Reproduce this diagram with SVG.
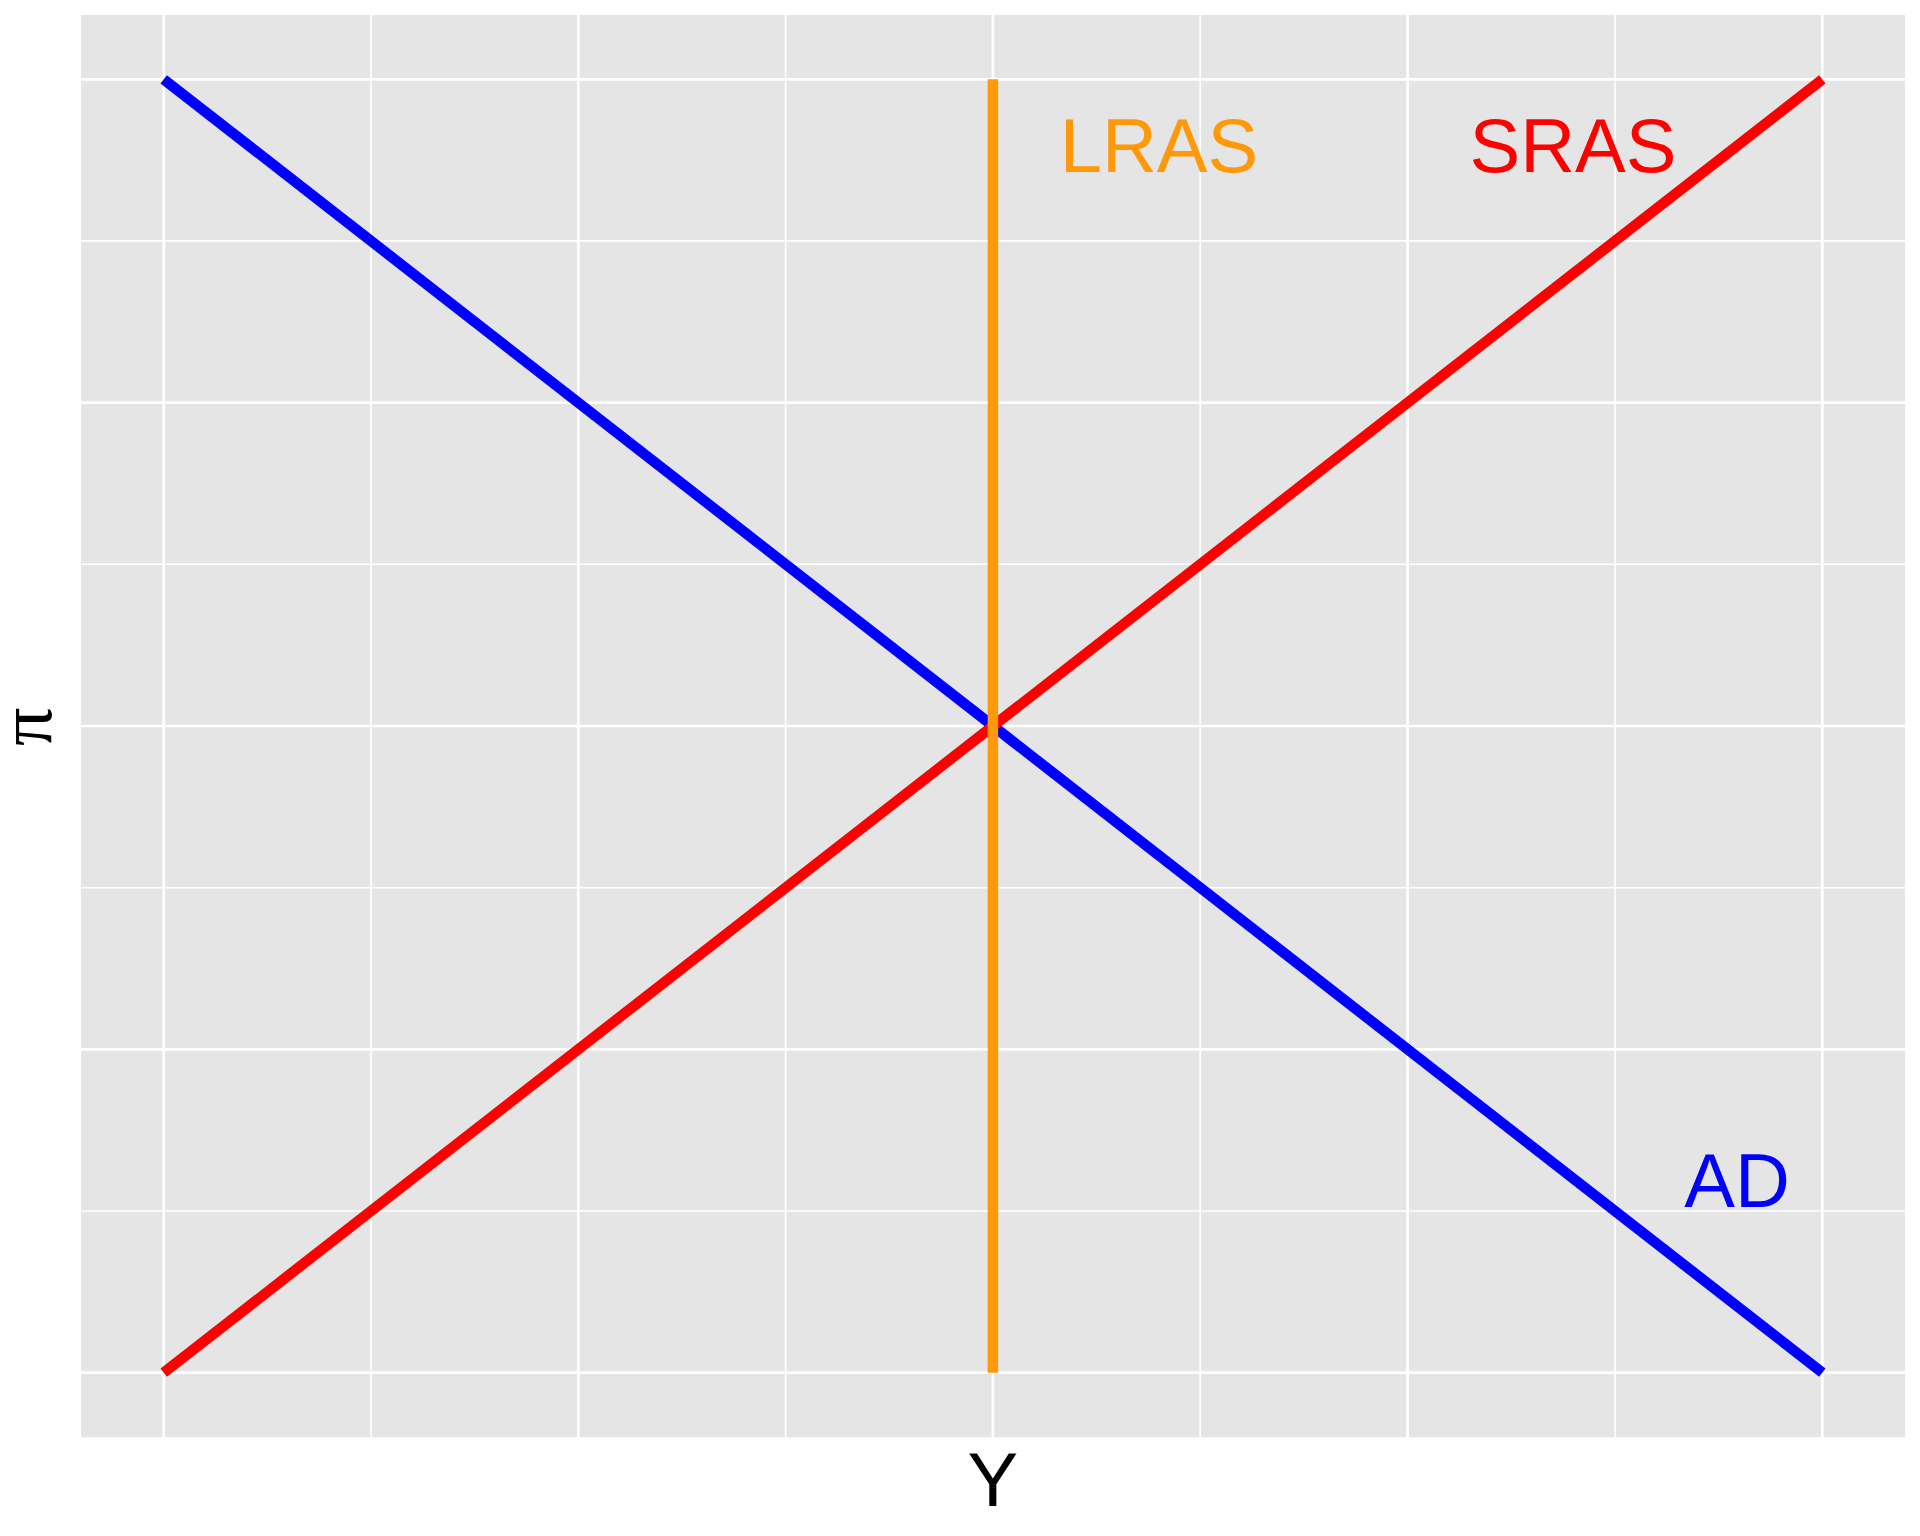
<svg xmlns="http://www.w3.org/2000/svg" width="1920" height="1536" viewBox="0 0 1920 1536">
<style>
.major{stroke:#FFFFFF;stroke-width:2.7;fill:none}
.minor{stroke:#FFFFFF;stroke-width:1.6;fill:none}
.curve{fill:none;stroke-width:10.5;stroke-linecap:butt}
.lbl{font-family:"Liberation Sans",Arial,sans-serif;font-size:76px;text-anchor:middle}
</style>
<rect x="0" y="0" width="1920" height="1536" fill="#FFFFFF"/>
<g id="panel">
<rect x="81" y="15" width="1824" height="1422.3" fill="#E5E5E5"/>
<g id="grid-minor">
<line class="minor" x1="81" y1="240.9" x2="1905" y2="240.9"/>
<line class="minor" x1="81" y1="564.3" x2="1905" y2="564.3"/>
<line class="minor" x1="81" y1="887.7" x2="1905" y2="887.7"/>
<line class="minor" x1="81" y1="1211" x2="1905" y2="1211"/>
<line class="minor" x1="371" y1="15" x2="371" y2="1437.3"/>
<line class="minor" x1="785.6" y1="15" x2="785.6" y2="1437.3"/>
<line class="minor" x1="1200.2" y1="15" x2="1200.2" y2="1437.3"/>
<line class="minor" x1="1615" y1="15" x2="1615" y2="1437.3"/>
</g>
<g id="grid-major">
<line class="major" x1="81" y1="79.3" x2="1905" y2="79.3"/>
<line class="major" x1="81" y1="402.6" x2="1905" y2="402.6"/>
<line class="major" x1="81" y1="726" x2="1905" y2="726"/>
<line class="major" x1="81" y1="1049.4" x2="1905" y2="1049.4"/>
<line class="major" x1="81" y1="1372.7" x2="1905" y2="1372.7"/>
<line class="major" x1="163.7" y1="15" x2="163.7" y2="1437.3"/>
<line class="major" x1="578.3" y1="15" x2="578.3" y2="1437.3"/>
<line class="major" x1="992.9" y1="15" x2="992.9" y2="1437.3"/>
<line class="major" x1="1407.6" y1="15" x2="1407.6" y2="1437.3"/>
<line class="major" x1="1822.3" y1="15" x2="1822.3" y2="1437.3"/>
</g>
</g>
<g id="connectors">
<line id="AD-line" class="curve" stroke="#0000FF" x1="163.7" y1="79.3" x2="1822.3" y2="1372.7"/>
<line id="SRAS-line" class="curve" stroke="#FF0000" x1="163.7" y1="1372.7" x2="1822.3" y2="79.3"/>
<line id="LRAS-line" class="curve" stroke="#FF990A" stroke-width="11.5" x1="992.9" y1="79.3" x2="992.9" y2="1372.7"/>
</g>
<g id="label-LRAS"><text class="lbl" x="1159" y="171.7" fill="#FF990A">LRAS</text></g>
<g id="label-SRAS"><text class="lbl" x="1573" y="171.7" fill="#FF0000">SRAS</text></g>
<g id="label-AD"><text class="lbl" x="1737" y="1207.3" fill="#0000FF">AD</text></g>
<g id="axis-x"><text class="lbl" x="992.9" y="1506" fill="#000000">Y</text></g>
<g id="axis-y"><text transform="translate(51,726.7) rotate(-90)" text-anchor="middle" font-family="'Liberation Serif','Times New Roman',serif" font-size="76" fill="#000000">π</text></g>
</svg>
